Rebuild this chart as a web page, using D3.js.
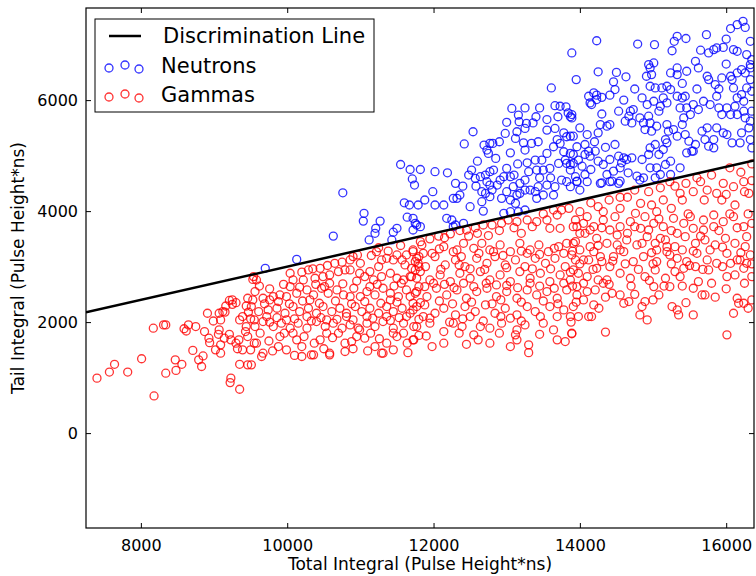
<!DOCTYPE html>
<html>
<head>
<meta charset="utf-8">
<script src="https://cdn.jsdelivr.net/npm/d3@7"></script>
<style>
  body { margin: 0; background: #fff; }
  text { font-family: "DejaVu Sans", sans-serif; }
</style>
</head>
<body>
<div id="chart"></div>
<script>
// Data (Total Integral, Tail Integral)
const neutrons = [
  [9700,2970],[10130,3130],[10630,3550],[10760,4330],[11050,3960],[11040,3820],[11270,3820],[11210,3690],[11200,3600],[11120,3480],
  [11600,4150],[11670,4110],[11640,3890],[11720,3870],[11750,3780],[11500,3690],[11450,3620],[11430,3480],[11720,3660],[11740,4470],
  [11550,4840],[11680,4750],[11820,4750],[11710,4580],
  [13610,6220],[13070,5850],[13250,5860],[13450,5860],[13660,5900],[13730,5890],[13810,5880],[13160,5730],[13840,5770],
  [13870,5700],[13170,5610],[13270,5580],[13360,5590],[13250,5490],[12980,5400],[13140,5430],[13120,5310],[12540,5430],[12420,5210],
  [12690,5190],[12770,5220],[12810,5220],[12730,5100],[12750,5040],[13230,5230],[13250,5100],[13340,5220],[13430,5250],[13550,5460],
  [13660,5490],[13780,5410],[13820,5340],[13910,5350],[13690,5290],[13730,5220],[13640,5160],[13780,5070],[13870,5040],[13960,5160],
  [13550,5040],[13480,4920],[13390,4920],[13280,4870],[13300,4710],[13410,4740],[13500,4740],[13590,4770],[13710,4860],[13800,4920],
  [13820,4860],[13910,4860],[13980,4920],[13870,4740],[13940,4620],[13820,4530],[13960,4530],[13750,4560],[13660,4440],[13550,4470],
  [13430,4440],[13390,4350],[13410,4230],[13500,4290],[13640,4290],[13250,4560],[13180,4500],[13250,4380],[13320,4380],[13180,4320],
  [12020,4710],[12190,4690],[12520,4740],[12480,4650],[12570,4590],[12640,4620],[12710,4650],[12770,4710],[12820,4740],[12730,4530],
  [12770,4470],[12660,4350],[12710,4320],[12800,4380],[12870,4470],[12910,4560],[12960,4620],[13000,4770],[13050,4620],[13000,4350],
  [12930,4230],[13050,4200],[13090,4440],[13140,4290],[13120,4140],[11990,4350],[11880,4200],[11790,4110],[11770,3750],[11820,3720],
  [12020,4110],[12140,4110],[12270,4230],[12360,4290],[12320,4230],[12500,4080],[12180,3870],[12250,3840],[12300,3750],[12410,3780],
  [12270,3720],[12680,4000],[12660,4170],[12770,4260],[12960,3960],[13050,3990],[13160,3990],[13250,4020],
  [14230,7070],[14790,7010],[15020,7000],[15290,7060],[15330,7150],[15450,7110],[15730,7180],[16060,7290],[16150,7360],[16230,7420],
  [16260,7310],[16330,7060],[13890,6850],[15260,6890],[15760,6850],[15830,6910],[15870,6940],[15960,6950],[16100,6910],[16150,6880],
  [16280,6820],[16350,6730],[16330,6640],[14250,6510],[13950,6370],[14630,6420],[14460,6330],[14480,6190],[14410,6090],[14120,6070],
  [14190,6130],[14230,6090],[14300,6050],[14140,5950],[14160,5920],[14230,6010],[14940,6640],[14960,6580],[15010,6670],[14980,6460],
  [14910,6430],[15030,6220],[14960,6250],[15120,6220],[15190,6250],[15240,6190],[15330,6580],[15330,6460],[15240,6490],[15460,6520],
  [15580,6700],[15620,6580],[15740,6430],[15760,6370],[15850,6280],[15940,6400],[16060,6430],[16080,6370],[16150,6490],[16210,6550],
  [16260,6490],[16330,6580],[16330,6370],[16280,6220],[16210,6100],[16100,6220],[16150,6040],[16240,5980],[16350,6160],[14850,6040],
  [14920,5920],[15010,5980],[15100,5890],[15140,6040],[15190,5950],[15080,5800],[15330,6070],[15400,6040],[15440,6070],[15370,5860],
  [15460,5860],[15550,5920],[15510,5740],[15420,5680],[15620,5830],[15690,5980],[15780,5920],[15870,6070],[15900,5860],[15940,5740],
  [16010,5860],[16060,5740],[16120,5890],[16150,5740],[16240,5800],[16260,5680],[16350,5800],[16330,5620],[14530,5800],[14690,5800],
  [14730,5830],[14670,5710],[14620,5620],[14710,5590],[14820,5680],[14870,5590],[14940,5710],[14960,5590],[14890,5470],[14980,5440],
  [15050,5530],[15190,5560],[15210,5440],[15170,5290],[15280,5470],[15330,5350],[15400,5560],[15440,5380],[15490,5260],[15530,5080],
  [15580,5200],[15670,5440],[15740,5500],[15710,5290],[15830,5290],[15870,5500],[15960,5410],[16010,5380],[16080,5230],[16190,5230],
  [16210,5410],[16310,5500],[16330,5290],[16350,5140],[15830,5140],[15760,5170],[15550,5080],[15460,5050],[14410,5560],[14280,5560],
  [14250,5410],[14370,5530],[13890,5740],[13890,5680],[13870,5350],[14100,5380],[14070,5200],[14120,5080],[14070,5020],[14140,4990],
  [14210,5080],[13910,5020],[13870,4840],[14030,4810],[14070,4660],[13960,4540],[14320,4840],[14410,4930],[14480,5200],[14530,4990],
  [14600,4960],[14640,4930],[14710,4960],[14550,4780],[14460,4720],[14370,4660],[14440,4540],[14300,4510],[14550,4540],[14660,4690],
  [14780,4630],[14850,4930],[14940,5020],[14960,5140],[15030,5200],[15080,5020],[15140,5110],[15190,5230],[14960,4780],[15050,4780],
  [15170,4840],[15240,4900],[15100,4660],[15240,4660],[15370,4780],[14870,4600],[15030,4600],[14570,4870],
  [13870,4440],[14000,4380],[14100,4530],[14280,4500],[14410,4530],[14530,4500],[14820,4560],
  [12600,4900],[12850,4950],[13050,5050],[13150,4850],[12900,5250],[13000,5600],[13400,5700],[13550,5650],[13700,5700],[13100,4650],
  [13600,4600],[13450,4600],[12400,4450],[12580,4450],[12300,4500],[14150,4750],[14250,4900],[14350,5150],[14200,5250],[14000,5500],
  [14300,5750],[14600,6000],[14750,6200],[14500,6500],[15400,6300],[15600,6200],[15900,6200],[16000,6650],[15650,6900],[16000,7100]
];

const gammas = [
  [7400,990],[7570,1100],[7640,1240],[7820,1100],[8010,1340],[8180,670],[8170,1890],[8310,1950],[8340,1950],[8340,1080],
  [8470,1320],[8480,1130],[8560,1240],[8590,1880],[8620,1840],[8650,1950],[8750,1920],[8710,1490],[8790,1320],[8830,1200],
  [8850,1390],[8870,1830],[8910,2160],[8930,1710],[8940,1630],[8990,2020],[9020,1500],[9060,1780],[9090,2040],[9070,2160],
  [9120,2190],[9090,1440],[9090,1590],[9160,2290],[9210,2390],[9250,2400],[9300,2350],[9150,2180],[9210,1780],[9230,1680],
  [9300,1620],[9340,1680],[9320,1520],[9350,2040],[9390,2100],[9430,1830],[9460,1740],[9440,2290],[9470,2180],[9460,2430],
  [9350,1240],[9460,1230],[9230,990],[9220,910],[9350,790],[9530,2770],[9500,1500],[9550,1620],[9550,2040],[9250,2320],
  [9070,1860],[9140,1710],[9390,1500],[9440,1920],
  [10860,3120],[10900,3180],[10960,3210],[11250,3340],[11220,3270],[11290,3120],[11250,3000],[11360,3150],[11450,3120],[11500,3210],
  [11570,3120],[11630,3210],[11720,3270],[11770,3150],[11610,3030],[11700,2970],[11750,2940],[11790,3060],
  [9540,2820],[9580,2760],[10080,2760],[10220,2760],[10290,2940],[10380,2790],[10450,2970],[10490,2820],[10580,2850],[10650,3060],
  [10700,2910],[10790,2940],[10860,2940],[10990,2880],[11060,2820],[11130,2910],[11180,2760],[11290,2820],[11410,2880],[11500,2790],
  [11590,2760],[11680,2820],[11770,2790],
  [9560,2550],[9670,2430],[9810,2460],[9900,2490],[9990,2460],[10130,2520],[10270,2580],[10360,2490],[10470,2610],[10560,2520],
  [10680,2580],[10770,2490],[10910,2610],[11000,2460],[11090,2550],[11200,2490],[11310,2610],[11410,2520],[11520,2460],[11630,2580],
  [11750,2520],
  [9510,2280],[9610,2190],[9740,2220],[9860,2250],[9970,2160],[10080,2280],[10170,2190],[10290,2250],[10400,2160],[10490,2280],
  [10610,2190],[10720,2250],[10810,2160],[10930,2280],[11020,2190],[11130,2250],[11250,2160],[11360,2280],[11450,2190],[11570,2250],
  [11680,2160],[11770,2280],
  [9560,1920],[9670,2010],[9810,1920],[9920,1980],[10040,1890],[10150,1980],[10270,1890],[10400,2010],[10520,1920],[10630,1980],
  [10750,1890],[10860,1950],[10970,1890],[11090,1980],[11200,1920],[11310,2010],[11450,1890],[11590,1980],[11730,1920],
  [9580,1620],[9670,1440],[9900,1740],[9880,1560],[9990,1500],[10130,1680],[10200,1560],[10330,1410],[10450,1680],[10580,1440],
  [10700,1800],[10790,1620],[10950,1740],[11060,1710],[11200,1560],[11310,1440],[11360,1620],[11500,1740],[11590,1800],[11730,1680],
  [10200,1380],[10360,1410],[10580,1410],[10790,1470],[11290,1440],[9510,1230],[9650,1380],
  [9760,2400],[10040,2640],[10310,2400],[10580,2700],[10860,2460],[11130,2640],[11410,2400],[11680,2460],[9720,2100],[9990,2040],
  [10270,2100],[10540,2040],[10810,2100],[11090,2100],[11360,2100],[11630,2100],[9630,1800],[10080,1800],[10540,1800],[10990,1860],
  [11450,1800],
  [9620,2650],[9760,2600],[9950,2680],[10170,2630],[10390,2680],[10510,2640],[10760,2690],[10950,2740],[11230,2680],[11460,2650],
  [11560,2700],[11800,2640],[9530,2400],[9690,2330],[9880,2370],[10030,2330],[10210,2380],[10440,2340],[10660,2380],[10880,2330],
  [11060,2370],[11280,2340],[11500,2360],[11720,2340],[9500,2060],[9760,2000],[9860,2080],[10100,2060],[10330,2020],[10460,2080],
  [10680,2050],[10900,2040],[11170,2070],[11410,2030],[11530,2080],[11800,2050],[9750,1660],[9960,1800],[10230,1740],[10370,1620],
  [10620,1720],[10880,1650],[11140,1800],[11260,1700],[11640,1620],[11800,1760],[10040,2880],[10200,2900],[10550,3020],[10750,3080],
  [11000,3060],[11150,3200],[11380,3280],[11550,3380],[10350,2960],[9800,1480],[10100,1400],[10500,1520],[10900,1520],[11100,1480],
  [11450,1500],[11650,1450],
  [13750,4020],[13690,3930],[13640,4020],[13550,3840],[13410,3810],[13280,3840],[13140,3810],[13020,3840],[12930,3780],[12800,3750],
  [12680,3750],[12570,3700],[12450,3660],[12360,3650],[12230,3590],[12070,3550],[11950,3500],[11820,3450],[13590,3690],[13730,3690],
  [13940,3840],[13960,3720],[13910,3420],
  [11720,3300],[11840,3390],[11980,3240],[12140,3360],[12270,3270],[12410,3420],[12550,3330],[12660,3420],[12770,3300],[12910,3390],
  [13050,3270],[13180,3420],[13320,3300],[13440,3390],[13570,3270],[13710,3360],[13820,3420],
  [11750,3090],[11890,3000],[12020,3180],[12160,3030],[12300,3120],[12430,3000],[12590,3150],[12730,3060],[12840,3180],[12980,3030],
  [13120,3120],[13250,3000],[13390,3150],[13530,3060],[13660,3150],[13800,3000],[13940,3120],
  [11700,2820],[11820,2910],[11950,2760],[12090,2850],[12230,2730],[12360,2880],[12500,2790],[12640,2910],[12770,2760],[12910,2850],
  [13050,2730],[13180,2910],[13320,2790],[13460,2880],[13590,2730],[13730,2850],[13870,2760],[13980,2880],
  [11770,2550],[11910,2460],[12040,2610],[12180,2490],[12320,2580],[12450,2430],[12590,2550],[12730,2610],[12860,2460],[13000,2550],
  [13140,2430],[13280,2580],[13410,2490],[13550,2550],[13690,2430],[13820,2580],[13960,2490],
  [11720,2220],[11880,2310],[12020,2160],[12140,2250],[12300,2130],[12430,2280],[12570,2190],[12710,2310],[12840,2160],[12980,2250],
  [13140,2130],[13280,2280],[13390,2190],[13590,2280],[13780,2220],[13870,2100],
  [11770,1920],[11950,1980],[12140,1830],[12270,1980],[12390,1920],[12550,1770],[12640,1920],[12770,1890],[12930,1980],[13140,1860],
  [13250,1950],[13500,1980],[13640,1860],[13890,1800],
  [11980,1560],[12610,1680],[13140,1680],[13120,1770],[13300,1590],[13300,1450],
  [11860,3240],[12320,3300],[12820,3270],[13280,3240],[13780,3240],[12000,2700],[12410,2700],[12860,2670],[13320,2700],[13780,2700],
  [11860,2100],[12500,2100],[13050,2070],[13690,2100],[11720,1680],[12140,1620],[12770,1620],[13690,1680],
  [12150,3520],[12600,3600],[12900,3650],[13100,3700],[13350,3720],[13500,3950],[13850,4050],[13200,3600],[12480,3550],[12750,3560],
  [11800,3180],[12080,3320],[12380,3180],[12620,3240],[12950,3200],[13200,3280],[13450,3220],[13650,3330],[13900,3280],[11800,3000],
  [12100,2950],[12350,3030],[12500,2960],[12700,2950],[13000,2980],[13350,2960],[13600,2960],[13870,2900],[11880,2640],[12150,2680],
  [12280,2620],[12550,2640],[12720,2700],[13000,2660],[13150,2620],[13450,2650],[13650,2610],[13900,2650],[11820,2350],[12080,2380],
  [12260,2330],[12520,2360],[12800,2330],[12920,2400],[13200,2360],[13500,2380],[13700,2330],[13950,2360],[11950,2070],[12220,2000],
  [12400,2060],[12680,2020],[12920,2100],[13200,2020],[13460,2100],[13880,2000],[11900,1750],[12350,1800],[12450,1600],[12900,1800],
  [13050,1560],[13450,1780],[13800,1650],
  [15230,4530],[15370,4320],[15550,4350],[15650,4530],[15740,4380],[15870,4320],[15960,4500],[16100,4440],[16240,4530],[16310,4320],
  [16120,4110],[15940,4200],[14940,4350],[14830,4140],[15140,4200],[14980,4110],[15050,3990],[14890,3900],[14760,3960],[14550,4050],
  [14320,3990],[14250,4080],[14000,3990],
  [13910,3720],[14050,3780],[14190,3720],[14320,3840],[14480,3900],[14550,3720],[14690,3810],[14830,3690],[15010,3780],[15140,3720],
  [15280,3870],[15420,3780],[15550,3690],[15690,3840],[15830,3720],[15960,3810],[16100,3900],[16240,3720],[16350,3780],
  [13940,3450],[14070,3600],[14230,3510],[14370,3420],[14510,3570],[14640,3480],[14780,3390],[14920,3540],[15030,3420],[15170,3480],
  [15300,3360],[15440,3540],[15580,3420],[15710,3480],[15850,3390],[15990,3510],[16120,3420],[16260,3360],
  [13890,3210],[14050,3120],[14190,3270],[14300,3090],[14460,3180],[14600,3270],[14730,3090],[14870,3180],[15050,3090],[15190,3270],
  [15330,3150],[15460,3090],[15600,3240],[15740,3120],[15870,3060],[16010,3240],[16150,3120],[16280,3060],
  [13910,2940],[14100,2820],[14230,2970],[14370,2760],[14550,2880],[14690,2790],[14890,2820],[15030,2940],[15170,2790],[15300,2910],
  [15420,2970],[15580,3000],[15760,2940],[16010,2820],[16120,2850],[16240,2970],[16350,2820],
  [13960,2640],[14100,2550],[14210,2580],[14320,2700],[14440,2520],[14550,2490],[15010,2640],[15080,2490],[15230,2640],[15550,2610],
  [15670,2490],[15710,2490],[16150,2430],[16350,2400],
  [13910,2280],[14190,2310],[14260,2250],[14600,2340],[14670,2370],[14850,2280],[14890,2370],[14820,2130],[15260,2280],[15330,2220],
  [15350,2130],[15550,2130],[16100,2160],[16170,2340],[16240,2340],[14120,2100],[14160,2100],[13980,2100],
  [13890,1790],[14350,1820],[16010,1770],[14920,2040],
  [14000,3600],[14140,3360],[14280,3180],[14410,3000],[14120,3120],[14250,2760],[14510,3390],[14140,3660],[14410,3660],[15100,3510],
  [15190,3360],[15230,3210],[15330,3600],[15510,3900],[15690,3660],[15830,3930],[15050,3300],[14940,3660],[16280,3540],[16190,3120],
  [16330,3210],[16060,3060],[15370,2820],[15620,2730],
  [14150,4150],[14400,4200],[14650,4250],[14750,4380],[15100,4420],[15300,4450],[15450,4500],[15600,4600],[15800,4650],[16050,4780],
  [16200,4700],[16350,4850],[15400,4200],[15700,4200],[16000,4300],[16250,4350],[14550,4250],[15250,4050],[16350,4550],
  [14100,3900],[14300,3700],[14650,3600],[14750,3720],[15080,3860],[15250,3650],[15480,3950],[15650,3550],[15900,3650],[16150,3700],
  [16050,3950],[16300,3950],[14000,3300],[14250,3380],[14550,3300],[14850,3420],[14980,3250],[15400,3300],[15550,3280],[15780,3300],
  [15950,3350],[16200,3250],[14000,3050],[14180,2950],[14450,3100],[14620,3050],[14800,2950],[15000,3050],[15250,3050],[15500,3020],
  [15680,2950],[15950,3000],[16350,3050],[14050,2700],[14400,2680],[14700,2650],[14950,2750],[15150,2650],[15400,2650],[15800,2700],
  [16000,2600],[16250,2700],[14050,2400],[14350,2450],[14750,2500],[15000,2400],[15450,2350],[15850,2450],[16300,2250]
];

// Discrimination line end points
const lineX = [7250, 16380];
const lineY = [2175, 4914];

const xDomain = [7250, 16380];
const yDomain = [-1710, 7660];
const xTicks = [8000, 10000, 12000, 14000, 16000];
const yTicks = [0, 2000, 4000, 6000];
const legendLabels = ["Discrimination Line", "Neutrons", "Gammas"];

const margin = { top: 8, right: 2, bottom: 48, left: 86 };
const width = 756 - margin.left - margin.right;
const height = 576 - margin.top - margin.bottom;

const svg = d3.select("#chart")
  .append("svg")
  .attr("width", 756)
  .attr("height", 576)
  .append("g")
  .attr("transform", `translate(${margin.left}, ${margin.top})`);

const xScale = d3.scaleLinear().domain(xDomain).range([0, width]);
const yScale = d3.scaleLinear().domain(yDomain).range([height, 0]);

svg.append("defs").append("clipPath")
  .attr("id", "plot-clip")
  .append("rect")
  .attr("width", width)
  .attr("height", height);

const plot = svg.append("g").attr("clip-path", "url(#plot-clip)");

// Scatter points
plot.selectAll(".neutron")
  .data(neutrons)
  .enter()
  .append("circle")
  .attr("class", "neutron")
  .attr("cx", d => xScale(d[0]))
  .attr("cy", d => yScale(d[1]))
  .attr("r", 4)
  .attr("fill", "none")
  .attr("stroke", "#0000ff")
  .attr("stroke-opacity", 0.8)
  .attr("stroke-width", 1.3);

plot.selectAll(".gamma")
  .data(gammas)
  .enter()
  .append("circle")
  .attr("class", "gamma")
  .attr("cx", d => xScale(d[0]))
  .attr("cy", d => yScale(d[1]))
  .attr("r", 4)
  .attr("fill", "none")
  .attr("stroke", "#ff0000")
  .attr("stroke-opacity", 0.8)
  .attr("stroke-width", 1.3);

// Discrimination line
plot.append("path")
  .datum(lineX.map((x, i) => [x, lineY[i]]))
  .attr("fill", "none")
  .attr("stroke", "#000")
  .attr("stroke-width", 2.5)
  .attr("d", d3.line().x(d => xScale(d[0])).y(d => yScale(d[1])));

// Axes with inward ticks on all sides
function styleAxis(g) {
  g.select(".domain").remove();
  g.selectAll("line").attr("stroke", "#000");
  g.selectAll("text")
    .attr("fill", "#000")
    .style("font-family", "'DejaVu Sans', sans-serif")
    .style("font-size", "16px");
}

svg.append("g")
  .attr("transform", `translate(0, ${height})`)
  .call(d3.axisBottom(xScale).tickValues(xTicks).tickSizeInner(-5).tickSizeOuter(0).tickPadding(12).tickFormat(d3.format("d")))
  .call(styleAxis);

svg.append("g")
  .call(d3.axisTop(xScale).tickValues(xTicks).tickSizeInner(-5).tickSizeOuter(0).tickFormat(""))
  .call(styleAxis);

svg.append("g")
  .call(d3.axisLeft(yScale).tickValues(yTicks).tickSizeInner(-5).tickSizeOuter(0).tickPadding(8).tickFormat(d3.format("d")))
  .call(styleAxis);

svg.append("g")
  .attr("transform", `translate(${width}, 0)`)
  .call(d3.axisRight(yScale).tickValues(yTicks).tickSizeInner(-5).tickSizeOuter(0).tickFormat(""))
  .call(styleAxis);

// Frame
svg.append("rect")
  .attr("width", width)
  .attr("height", height)
  .attr("fill", "none")
  .attr("stroke", "#000")
  .attr("stroke-width", 1.2);

// Axis labels
svg.append("text")
  .attr("x", width / 2)
  .attr("y", height + 42)
  .attr("text-anchor", "middle")
  .style("font-size", "17px")
  .text("Total Integral (Pulse Height*ns)");

svg.append("text")
  .attr("transform", `translate(${-62}, ${height / 2}) rotate(-90)`)
  .attr("text-anchor", "middle")
  .style("font-size", "17px")
  .text("Tail Integral (Pulse Height*ns)");

// Legend
const legend = svg.append("g").attr("transform", "translate(9, 11)");
legend.append("rect")
  .attr("width", 279)
  .attr("height", 93)
  .attr("fill", "#fff")
  .attr("stroke", "#000")
  .attr("stroke-width", 1);

legend.append("line")
  .attr("x1", 14).attr("x2", 46)
  .attr("y1", 17).attr("y2", 17)
  .attr("stroke", "#000")
  .attr("stroke-width", 2.5);

const markerOffsets = [[14, 2], [30, -1], [44, 3]];
[["#0000ff", 47], ["#ff0000", 76]].forEach(([color, cy]) => {
  legend.selectAll(null)
    .data(markerOffsets)
    .enter()
    .append("circle")
    .attr("cx", d => d[0])
    .attr("cy", d => cy + d[1])
    .attr("r", 4)
    .attr("fill", "none")
    .attr("stroke", color)
    .attr("stroke-opacity", 0.8)
    .attr("stroke-width", 1.3);
});

legend.selectAll(".legend-label")
  .data(legendLabels)
  .enter()
  .append("text")
  .attr("class", "legend-label")
  .attr("x", (d, i) => i === 0 ? 68 : 66)
  .attr("y", (d, i) => [17, 47, 76][i])
  .attr("dy", "0.35em")
  .style("font-size", "21px")
  .text(d => d);
</script>
</body>
</html>
